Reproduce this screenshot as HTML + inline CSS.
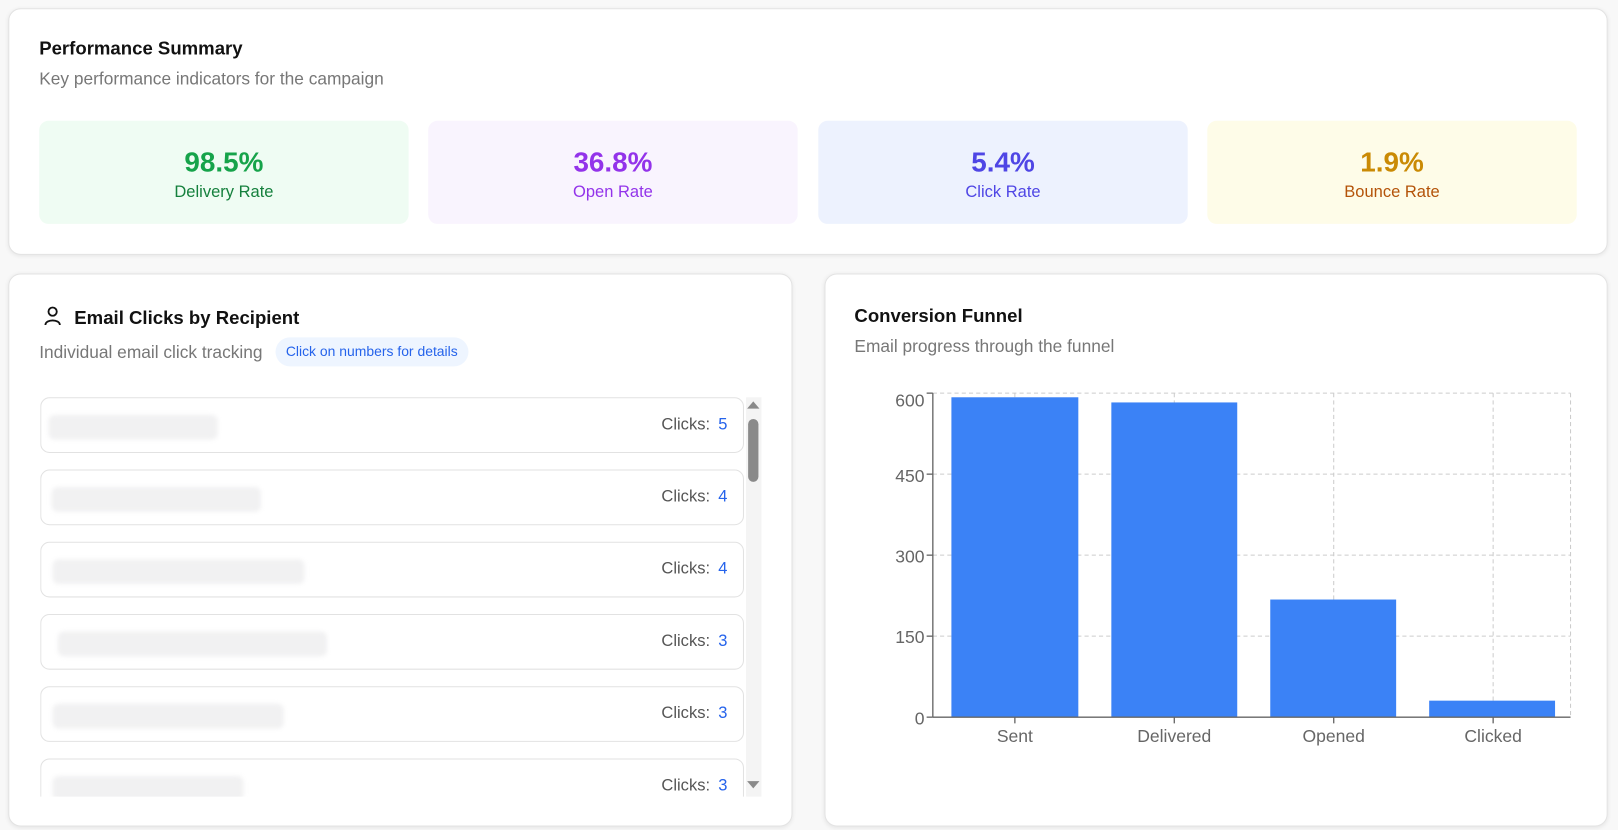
<!DOCTYPE html>
<html><head><style>
*{box-sizing:border-box;margin:0;padding:0}
html,body{width:1618px;height:829px;overflow:hidden;background:#f8f8f8}
#w{position:absolute;left:0;top:0;width:1568px;height:804px;transform:scale(1.03189);transform-origin:0 0;font-family:"Liberation Sans",sans-serif}
.card{position:absolute;background:#fff;border:1px solid #e3e3e3;border-radius:12px;box-shadow:0 1px 4px rgba(0,0,0,.08)}
.t{position:absolute;white-space:nowrap}
.kpi{position:absolute;top:117px;height:100px;width:358px;border-radius:9px;text-align:center}
.kpi .v{font-size:27px;font-weight:bold;margin-top:25px;line-height:30px}
.kpi .l{font-size:16px;margin-top:6px}
.row{position:absolute;left:39px;width:682px;height:54px;border:1px solid #e2e2e2;border-radius:9px;background:#fff}
.blur{position:absolute;top:16px;height:24px;background:#f1f1f2;border-radius:6px;filter:blur(2px)}
.cl{position:absolute;right:15px;top:17px;font-size:16px;color:#555}
.cl b{color:#2563eb;font-weight:normal;margin-left:8px}
</style></head><body><div id="w">
<div class="card" style="left:8px;top:8px;width:1550px;height:239px"></div>
<div class="t" style="left:38px;top:37px;font-size:18px;font-weight:bold;color:#111">Performance Summary</div>
<div class="t" style="left:38px;top:67px;font-size:16.8px;color:#777">Key performance indicators for the campaign</div>
<div class="kpi" style="left:38px;background:#effcf3;color:#16a34a"><div class="v">98.5%</div><div class="l" style="color:#15803d">Delivery Rate</div></div>
<div class="kpi" style="left:415px;background:#f9f4fe;color:#9333ea"><div class="v">36.8%</div><div class="l">Open Rate</div></div>
<div class="kpi" style="left:793px;background:#edf2fe;color:#4f46e5"><div class="v" style="color:#4f46e5">5.4%</div><div class="l">Click Rate</div></div>
<div class="kpi" style="left:1170px;background:#fefce8;color:#ca8a04"><div class="v">1.9%</div><div class="l" style="color:#b45309">Bounce Rate</div></div>

<div class="card" style="left:8px;top:265px;width:760px;height:536px"></div>
<svg style="position:absolute;left:40px;top:295px" width="22" height="22" viewBox="0 0 22 22"><circle cx="11" cy="7" r="4" fill="none" stroke="#111" stroke-width="1.8"/><path d="M4 20 C4 14 18 14 18 20" fill="none" stroke="#111" stroke-width="1.8"/></svg>
<div class="t" style="left:72px;top:298px;font-size:18px;font-weight:bold;color:#111">Email Clicks by Recipient</div>
<div class="t" style="left:38px;top:332px;font-size:16.8px;color:#777">Individual email click tracking</div>
<div class="t" style="left:267px;top:327px;height:28px;padding:0 10px;line-height:28px;border-radius:14px;background:#eef5ff;color:#2563eb;font-size:13.5px">Click on numbers for details</div>
<div style="position:absolute;left:39px;top:384px;width:700px;height:388px;overflow:hidden">
<div class="row" style="left:0;top:1px"><div class="blur" style="left:7px;width:164px"></div><div class="cl">Clicks:<b>5</b></div></div>
<div class="row" style="left:0;top:71px"><div class="blur" style="left:10px;width:203px"></div><div class="cl">Clicks:<b>4</b></div></div>
<div class="row" style="left:0;top:141px"><div class="blur" style="left:11px;width:244px"></div><div class="cl">Clicks:<b>4</b></div></div>
<div class="row" style="left:0;top:211px"><div class="blur" style="left:16px;width:261px"></div><div class="cl">Clicks:<b>3</b></div></div>
<div class="row" style="left:0;top:281px"><div class="blur" style="left:11px;width:224px"></div><div class="cl">Clicks:<b>3</b></div></div>
<div class="row" style="left:0;top:351px"><div class="blur" style="left:11px;width:185px"></div><div class="cl">Clicks:<b>3</b></div></div>
</div>
<div style="position:absolute;left:723px;top:385px;width:15px;height:387px;background:#f4f4f4"></div>
<div style="position:absolute;left:725px;top:406px;width:10px;height:61px;background:#8a8a8a;border-radius:5px"></div>
<div class="t" style="left:724px;top:389px;width:0;height:0;border-left:6px solid transparent;border-right:6px solid transparent;border-bottom:7px solid #8a8a8a"></div>
<div class="t" style="left:724px;top:757px;width:0;height:0;border-left:6px solid transparent;border-right:6px solid transparent;border-top:7px solid #8a8a8a"></div>

<div class="card" style="left:799px;top:265px;width:759px;height:536px"></div>
<div class="t" style="left:828px;top:296px;font-size:18px;font-weight:bold;color:#111">Conversion Funnel</div>
<div class="t" style="left:828px;top:326px;font-size:16.8px;color:#777">Email progress through the funnel</div>
<svg style="position:absolute;left:0;top:0" width="1568" height="804" font-family="Liberation Sans, sans-serif" font-size="17" fill="#666">
<g stroke="#ccc" stroke-dasharray="4 3" fill="none">
<line x1="904" y1="381" x2="1522" y2="381"/><line x1="904" y1="459.5" x2="1522" y2="459.5"/><line x1="904" y1="538" x2="1522" y2="538"/><line x1="904" y1="616.5" x2="1522" y2="616.5"/>
<line x1="983.5" y1="381" x2="983.5" y2="695"/><line x1="1138" y1="381" x2="1138" y2="695"/><line x1="1292.5" y1="381" x2="1292.5" y2="695"/><line x1="1447" y1="381" x2="1447" y2="695"/><line x1="1522" y1="381" x2="1522" y2="695"/>
</g>
<g fill="#3b82f6">
<rect x="922" y="385" width="123" height="310"/><rect x="1077" y="390" width="122" height="305"/><rect x="1231" y="581" width="122" height="114"/><rect x="1385" y="679" width="122" height="16"/>
</g>
<g stroke="#666" stroke-width="1.3">
<line x1="904" y1="381" x2="904" y2="695"/><line x1="904" y1="695" x2="1522" y2="695"/>
<line x1="898" y1="381" x2="904" y2="381"/><line x1="898" y1="459.5" x2="904" y2="459.5"/><line x1="898" y1="538" x2="904" y2="538"/><line x1="898" y1="616.5" x2="904" y2="616.5"/><line x1="898" y1="695" x2="904" y2="695"/>
<line x1="983.5" y1="695" x2="983.5" y2="701"/><line x1="1138" y1="695" x2="1138" y2="701"/><line x1="1292.5" y1="695" x2="1292.5" y2="701"/><line x1="1447" y1="695" x2="1447" y2="701"/>
</g>
<g text-anchor="end"><text x="896" y="394">600</text><text x="896" y="467">450</text><text x="896" y="545">300</text><text x="896" y="623">150</text><text x="896" y="702">0</text></g>
<g text-anchor="middle"><text x="983.5" y="719">Sent</text><text x="1138" y="719">Delivered</text><text x="1292.5" y="719">Opened</text><text x="1447" y="719">Clicked</text></g>
</svg>
</div></body></html>
